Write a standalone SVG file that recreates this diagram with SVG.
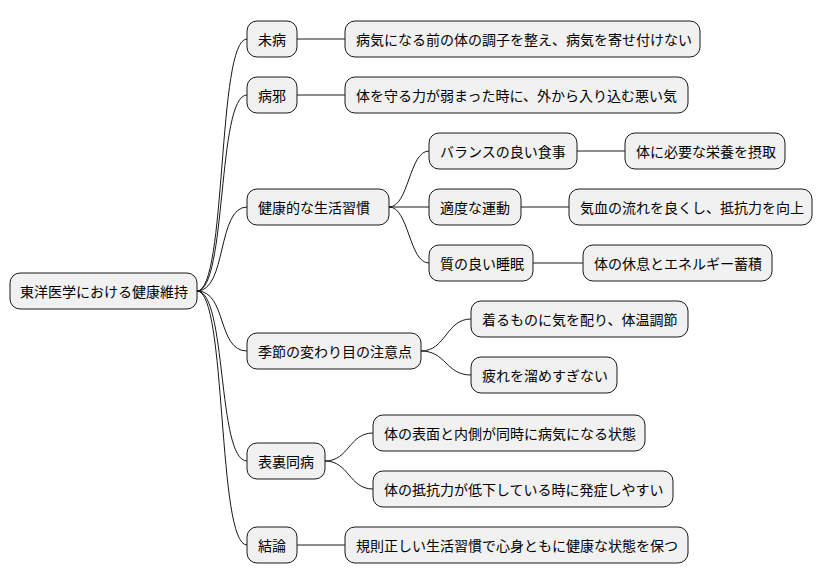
<svg xmlns="http://www.w3.org/2000/svg" width="824" height="583" viewBox="0 0 824 583">
<style>
.n rect{fill:#F1F1F1;stroke:#181818;stroke-width:1}
.n text{font-family:"Noto Sans CJK JP","Noto Sans CJK SC",sans-serif;font-size:14px;fill:#000;dominant-baseline:central}
#c path{fill:none;stroke:#181818;stroke-width:1}
</style>
<rect width="824" height="583" fill="#fff"/>
<g id="c">
<path d="M197,291 C227,291 217,39 247,39"/>
<path d="M197,291 C227,291 217,95 247,95"/>
<path d="M197,291 C227,291 217,207 247,207"/>
<path d="M197,291 C227,291 217,351 247,351"/>
<path d="M197,291 C227,291 217,461 247,461"/>
<path d="M197,291 C227,291 217,545 247,545"/>
<path d="M297,39 L345,39"/>
<path d="M297,95 L345,95"/>
<path d="M389,207 C409,207 409,151 429,151"/>
<path d="M389,207 L429,207"/>
<path d="M389,207 C409,207 409,263 429,263"/>
<path d="M577,151 L625,151"/>
<path d="M521,207 L569,207"/>
<path d="M533,263 L583,263"/>
<path d="M421,351 C446,351 446,319 471,319"/>
<path d="M421,351 C446,351 446,375 471,375"/>
<path d="M325,461 C349,461 349,433 373,433"/>
<path d="M325,461 C349,461 349,489 373,489"/>
<path d="M297,545 L345,545"/>
</g>
<g id="root" class="n"><rect x="10" y="273" width="187" height="36" rx="10"/><text x="20" y="291">東洋医学における健康維持</text></g>
<g id="n1" class="n"><rect x="247" y="21" width="50" height="36" rx="10"/><text x="258" y="39">未病</text></g>
<g id="n2" class="n"><rect x="247" y="77" width="50" height="36" rx="10"/><text x="258" y="95">病邪</text></g>
<g id="n3" class="n"><rect x="247" y="189" width="142" height="36" rx="10"/><text x="258" y="207">健康的な生活習慣</text></g>
<g id="n4" class="n"><rect x="247" y="333" width="174" height="36" rx="10"/><text x="258" y="351">季節の変わり目の注意点</text></g>
<g id="n5" class="n"><rect x="247" y="443" width="78" height="36" rx="10"/><text x="258" y="461">表裏同病</text></g>
<g id="n6" class="n"><rect x="247" y="527" width="50" height="36" rx="10"/><text x="258" y="545">結論</text></g>
<g id="n1a" class="n"><rect x="345" y="21" width="355" height="36" rx="10"/><text x="356" y="39">病気になる前の体の調子を整え、病気を寄せ付けない</text></g>
<g id="n2a" class="n"><rect x="345" y="77" width="343" height="36" rx="10"/><text x="356" y="95">体を守る力が弱まった時に、外から入り込む悪い気</text></g>
<g id="n3a" class="n"><rect x="429" y="133" width="148" height="36" rx="10"/><text x="440" y="151">バランスの良い食事</text></g>
<g id="n3b" class="n"><rect x="429" y="189" width="92" height="36" rx="10"/><text x="440" y="207">適度な運動</text></g>
<g id="n3c" class="n"><rect x="429" y="245" width="104" height="36" rx="10"/><text x="440" y="263">質の良い睡眠</text></g>
<g id="n3a1" class="n"><rect x="625" y="133" width="160" height="36" rx="10"/><text x="636" y="151">体に必要な栄養を摂取</text></g>
<g id="n3b1" class="n"><rect x="569" y="189" width="243" height="36" rx="10"/><text x="580" y="207">気血の流れを良くし、抵抗力を向上</text></g>
<g id="n3c1" class="n"><rect x="583" y="245" width="189" height="36" rx="10"/><text x="594" y="263">体の休息とエネルギー蓄積</text></g>
<g id="n4a" class="n"><rect x="471" y="301" width="217" height="36" rx="10"/><text x="482" y="319">着るものに気を配り、体温調節</text></g>
<g id="n4b" class="n"><rect x="471" y="357" width="146" height="36" rx="10"/><text x="482" y="375">疲れを溜めすぎない</text></g>
<g id="n5a" class="n"><rect x="373" y="415" width="272" height="36" rx="10"/><text x="384" y="433">体の表面と内側が同時に病気になる状態</text></g>
<g id="n5b" class="n"><rect x="373" y="471" width="300" height="36" rx="10"/><text x="384" y="489">体の抵抗力が低下している時に発症しやすい</text></g>
<g id="n6a" class="n"><rect x="345" y="527" width="343" height="36" rx="10"/><text x="356" y="545">規則正しい生活習慣で心身ともに健康な状態を保つ</text></g>
</svg>
